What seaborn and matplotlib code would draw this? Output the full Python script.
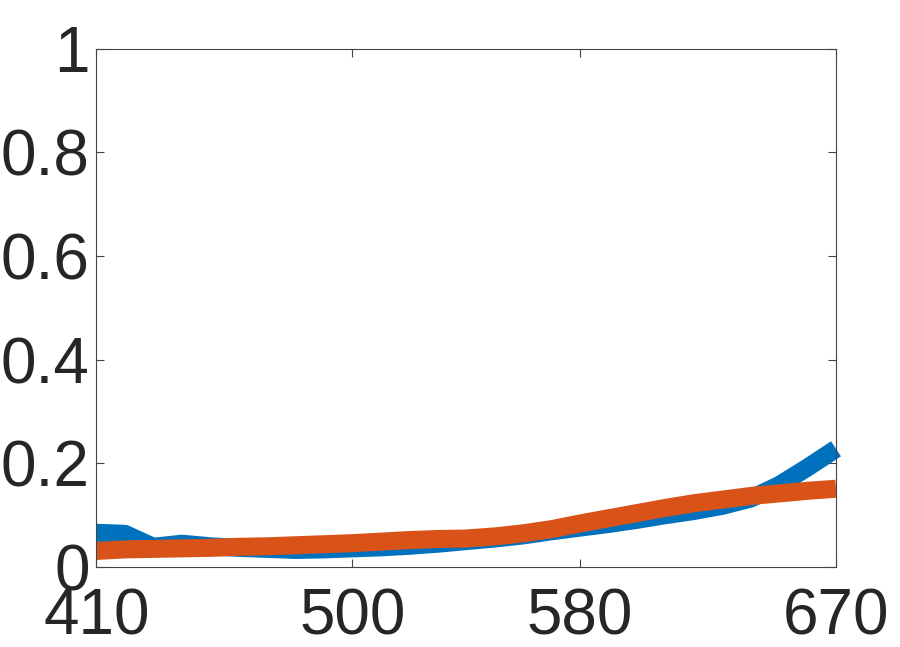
import numpy as np
import pandas as pd
import matplotlib
matplotlib.use("Agg")
import matplotlib.pyplot as plt
import seaborn as sns

# wavelengths (nm) and the two curves
wavelength = [410, 420, 430, 440, 450, 460, 470, 480, 490, 500, 510, 520, 530, 540,
              550, 560, 570, 580, 590, 600, 610, 620, 630, 640, 650, 660, 670]
blue_vals = [0.066, 0.064, 0.039, 0.045, 0.040, 0.037, 0.035, 0.033, 0.034, 0.036,
             0.038, 0.041, 0.045, 0.050, 0.055, 0.061, 0.069, 0.076, 0.083, 0.091,
             0.100, 0.108, 0.118, 0.132, 0.158, 0.192, 0.228]
orange_vals = [0.031, 0.034, 0.035, 0.036, 0.037, 0.039, 0.040, 0.042, 0.044, 0.046,
               0.049, 0.052, 0.054, 0.055, 0.059, 0.065, 0.073, 0.084, 0.094, 0.104,
               0.114, 0.123, 0.130, 0.137, 0.142, 0.147, 0.151]
series_names = ["measured", "fitted"]
x_ticks = [410, 500, 580, 670]
y_ticks = [0, 0.2, 0.4, 0.6, 0.8, 1]
y_ticklabels = ["0", "0.2", "0.4", "0.6", "0.8", "1"]

df = pd.DataFrame({
    "wavelength": wavelength * 2,
    "value": blue_vals + orange_vals,
    "series": [series_names[0]] * len(wavelength) + [series_names[1]] * len(wavelength),
})

sns.set_style("ticks")
plt.rcParams['font.family'] = ['Liberation Sans', 'DejaVu Sans']

fig = plt.figure(figsize=(9, 6.47), dpi=100)
ax = fig.add_axes([0.1072, 0.1236, 0.8217, 0.8014])

sns.lineplot(data=df, x="wavelength", y="value", hue="series",
             palette=["#0072BD", "#D95319"], linewidth=13, legend=False,
             ax=ax, sort=False)
for ln in ax.get_lines():
    ln.set_solid_capstyle("butt")
    ln.set_clip_on(False)

ax.set_xlim(410, 670)
ax.set_ylim(0, 1)
ax.set_xticks(x_ticks)
ax.set_xticklabels([str(t) for t in x_ticks])
ax.set_yticks(y_ticks)
ax.set_yticklabels(y_ticklabels)
ax.set_xlabel("")
ax.set_ylabel("")

for s in ax.spines.values():
    s.set_visible(True)
    s.set_color("#444444")
    s.set_linewidth(0.8)

ax.tick_params(axis="both", direction="in", length=6, width=0.8, color="#444444",
               labelsize=46, labelcolor="#262626", top=True, right=True)
ax.tick_params(axis="x", pad=15)
ax.tick_params(axis="y", pad=5)

fig.savefig("out.png", dpi=100)
